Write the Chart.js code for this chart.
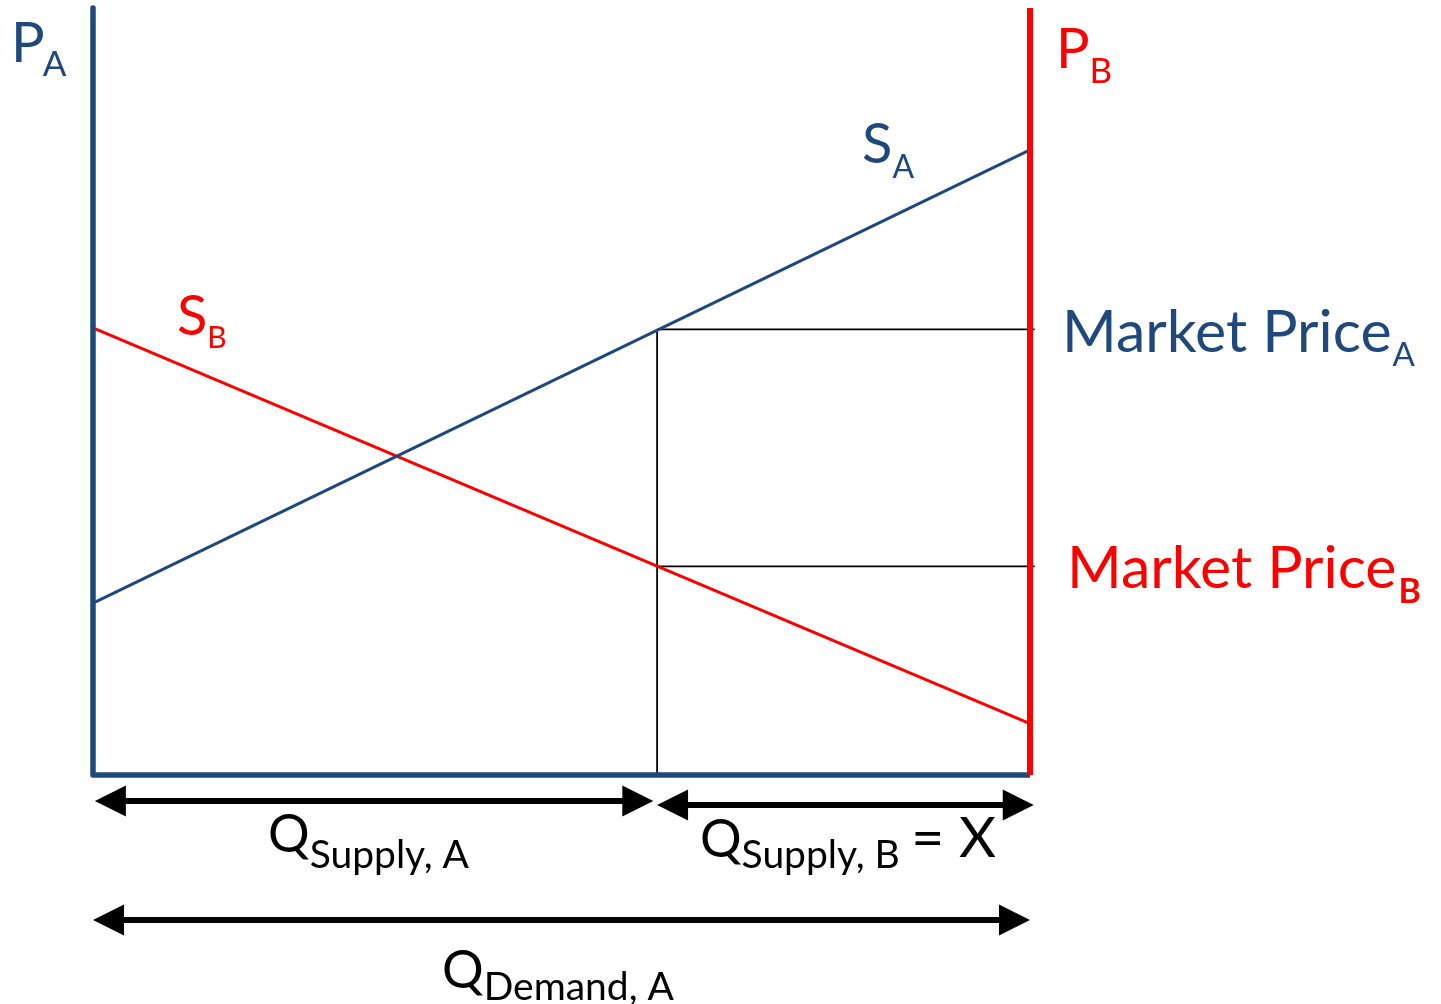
<!DOCTYPE html>
<html><head><meta charset="utf-8">
<script src="https://cdn.jsdelivr.net/npm/chart.js@4.4.1/dist/chart.umd.min.js"></script>
<style>html,body{margin:0;padding:0;background:#fff;overflow:hidden}#wrap{width:1441px;height:1004px}</style>
</head><body><div id="wrap"><canvas id="c" width="1441" height="1004"></canvas></div>
<script>
// ---- data (quantity on x, price on y) ----
const quantityRange = [0, 100];
const priceRange = [-25, 100];
const supplyAQuantity = [0, 100];
const supplyAPrice = [22.4, 81.5];
const supplyBQuantity = [0, 100];
const supplyBPrice = [58.3, 6.7];
const tradeQuantity = 60.2;
const marketPriceA = 58.1;
const marketPriceB = 27.2;
const guideEnd = 100.5;
const arrowSupplyA = { from: 0.2, to: 59.8, level: -3.4 };
const arrowSupplyB = { from: 60.2, to: 100.4, level: -3.9 };
const arrowDemandA = { from: 0, to: 100, level: -18.9 };

const BLUE = '#1F497D', RED = '#FF0000', BLACK = '#000000';
const FONT = 'Lato, "Open Sans", sans-serif';

const pts = (xs, ys) => xs.map((x, i) => ({ x, y: ys[i] }));

const textLabels = [
  { x: -8.75, y: 92.96, color: BLUE, runs: [{ t: 'P', s: 56 }, { t: 'A', s: 35, dy: 14, dx: -2 }] },
  { x: 102.77, y: 92.18, color: RED, runs: [{ t: 'P', s: 56 }, { t: 'B', s: 35, dy: 15 }] },
  { x: 82.07, y: 79.79, color: BLUE, runs: [{ t: 'S', s: 56 }, { t: 'A', s: 32, dy: 15 }] },
  { x: 8.96, y: 57.37, color: RED, runs: [{ t: 'S', s: 56 }, { t: 'B', s: 30, dy: 13 }] },
  { x: 103.42, y: 55.15, color: BLUE, runs: [{ t: 'Market Price', s: 59 }, { t: 'A', s: 33, dy: 14, dx: 1 }] },
  { x: 103.95, y: 24.38, color: RED, runs: [{ t: 'Market Price', s: 59 }, { t: 'B', s: 34, dy: 15, dx: 2, w: 'bold' }] },
  { x: 18.68, y: -10.04, color: BLACK, runs: [{ t: 'Q', s: 52 }, { t: 'Supply, A', s: 39, dy: 16 }] },
  { x: 64.78, y: -10.69, color: BLACK, runs: [{ t: 'Q', s: 52 }, { t: 'Supply, B', s: 39, dy: 11 }, { t: ' = X', s: 57, dy: 0, dx: -3 }] },
  { x: 37.25, y: -27.77, color: BLACK, runs: [{ t: 'Q', s: 52 }, { t: 'Demand, A', s: 39, dy: 12 }] }
];

const arrowPlugin = {
  id: 'arrows',
  afterDatasetsDraw(chart) {
    const ctx = chart.ctx;
    chart.data.datasets.forEach((ds, i) => {
      if (!ds.arrow) return;
      const d = chart.getDatasetMeta(i).data;
      const a = d[0], b = d[d.length - 1];
      const len = 31, half = 15.5;
      ctx.save();
      ctx.strokeStyle = BLACK; ctx.fillStyle = BLACK; ctx.lineWidth = 6;
      ctx.beginPath();
      ctx.moveTo(a.x + len - 2, a.y); ctx.lineTo(b.x - len + 2, b.y); ctx.stroke();
      ctx.beginPath();
      ctx.moveTo(a.x, a.y); ctx.lineTo(a.x + len, a.y - half); ctx.lineTo(a.x + len, a.y + half); ctx.closePath(); ctx.fill();
      ctx.beginPath();
      ctx.moveTo(b.x, b.y); ctx.lineTo(b.x - len, b.y - half); ctx.lineTo(b.x - len, b.y + half); ctx.closePath(); ctx.fill();
      ctx.restore();
    });
  }
};

const textPlugin = {
  id: 'texts',
  afterDraw(chart) {
    const ctx = chart.ctx, xs = chart.scales.x, ys = chart.scales.y;
    ctx.save();
    ctx.textBaseline = 'alphabetic'; ctx.textAlign = 'left';
    textLabels.forEach(l => {
      let px = xs.getPixelForValue(l.x);
      const py = ys.getPixelForValue(l.y);
      ctx.fillStyle = l.color;
      l.runs.forEach(r => {
        ctx.font = (r.w || 'normal') + ' ' + r.s + 'px ' + FONT;
        px += (r.dx || 0);
        ctx.fillText(r.t, px, py + (r.dy || 0));
        px += ctx.measureText(r.t).width;
      });
    });
    ctx.restore();
  }
};

const hidden = { borderWidth: 0, pointRadius: 0, showLine: false, arrow: true };

new Chart(document.getElementById('c'), {
  type: 'scatter',
  data: {
    datasets: [
      { label: 'P_B axis', data: pts([100, 100], [0, 100]), borderColor: RED, borderWidth: 6, showLine: true, pointRadius: 0, order: 0 },
      { label: 'P_A axis', data: pts([0, 0, 100], [100, 0, 0]), borderColor: BLUE, borderWidth: 5.5, borderJoinStyle: 'round', showLine: true, pointRadius: 0, order: 1 },
      { label: 'S_A', data: pts(supplyAQuantity, supplyAPrice), borderColor: BLUE, borderWidth: 3, showLine: true, pointRadius: 0, order: 2 },
      { label: 'S_B', data: pts(supplyBQuantity, supplyBPrice), borderColor: RED, borderWidth: 3, showLine: true, pointRadius: 0, order: 3 },
      { label: 'Market Price A', data: pts([tradeQuantity, guideEnd], [marketPriceA, marketPriceA]), borderColor: BLACK, borderWidth: 1.75, showLine: true, pointRadius: 0, order: 4 },
      { label: 'Market Price B', data: pts([tradeQuantity, guideEnd], [marketPriceB, marketPriceB]), borderColor: BLACK, borderWidth: 1.75, showLine: true, pointRadius: 0, order: 5 },
      { label: 'Trade quantity', data: pts([tradeQuantity, tradeQuantity], [marketPriceA, 0]), borderColor: BLACK, borderWidth: 1.75, showLine: true, pointRadius: 0, order: 6 },
      Object.assign({ label: 'Q Supply A', data: pts([arrowSupplyA.from, arrowSupplyA.to], [arrowSupplyA.level, arrowSupplyA.level]) }, hidden),
      Object.assign({ label: 'Q Supply B', data: pts([arrowSupplyB.from, arrowSupplyB.to], [arrowSupplyB.level, arrowSupplyB.level]) }, hidden),
      Object.assign({ label: 'Q Demand A', data: pts([arrowDemandA.from, arrowDemandA.to], [arrowDemandA.level, arrowDemandA.level]) }, hidden)
    ]
  },
  options: {
    responsive: false, animation: false, devicePixelRatio: 1,
    layout: { padding: { left: 93, right: 411, top: 8, bottom: 37.25 } },
    scales: {
      x: { type: 'linear', min: quantityRange[0], max: quantityRange[1], display: false },
      y: { type: 'linear', min: priceRange[0], max: priceRange[1], display: false }
    },
    plugins: { legend: { display: false }, tooltip: { enabled: false } },
    elements: { line: { tension: 0, borderCapStyle: 'butt' } },
    clip: false
  },
  plugins: [arrowPlugin, textPlugin]
});
</script></body></html>
